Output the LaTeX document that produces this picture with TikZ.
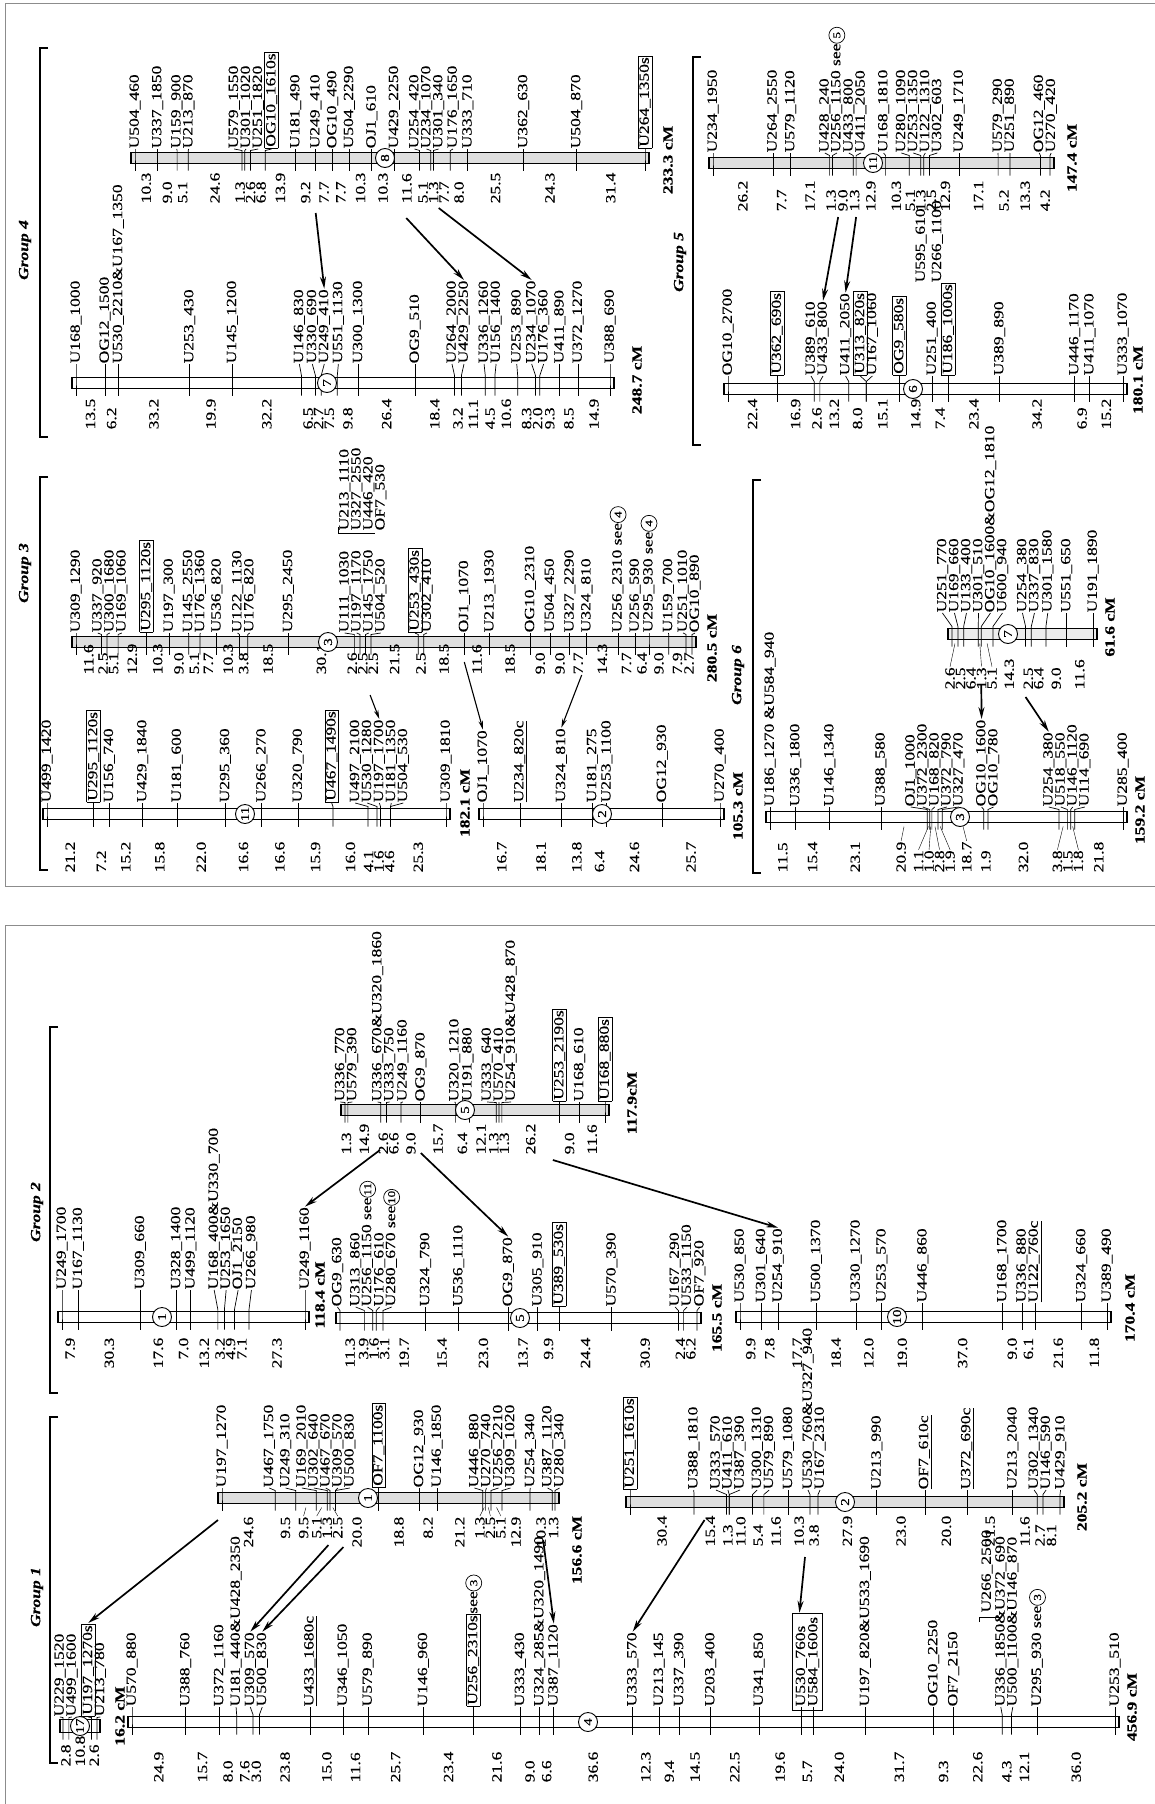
\documentclass[tikz,border=0pt]{standalone}
\usepackage{fontspec}
\setmainfont{Liberation Serif}[FakeStretch=1.25,FakeBold=0.4]
\usetikzlibrary{arrows.meta,fit,calc}
\setlength\fboxsep{1pt}
\setlength\fboxrule{0.6pt}
\tikzset{
  lab/.style={rotate=90,anchor=west,inner sep=0.5pt,font=\fontsize{14}{15}\selectfont},
  dst/.style={rotate=90,inner sep=0.5pt,font=\fontsize{14}{15}\selectfont},
  totlab/.style={rotate=90,inner sep=0.5pt,font=\fontsize{14}{15}\selectfont\bfseries},
  grplab/.style={rotate=90,inner sep=0.5pt,font=\fontsize{14}{15}\selectfont\bfseries\itshape},
  tickln/.style={line width=0.7pt},
  dleadln/.style={line width=0.4pt},
  barln/.style={line width=1.4pt},
  cnode/.style={circle,draw,line width=0.9pt,fill=white,inner sep=0pt,minimum size=19pt,rotate=90,font=\fontsize{12}{12}\selectfont},
  arr/.style={line width=1.7pt,-{Stealth[length=12pt,width=6pt]}},
  thinarr/.style={line width=1.1pt,-{Stealth[length=9pt,width=4.5pt]}},
  brk/.style={line width=2.4pt},
  frm/.style={line width=0.8pt,black!45},
}
\newcommand\encirc[1]{\tikz[baseline=(e.base)]\node[draw,circle,inner sep=0pt,minimum size=16pt,line width=0.7pt,anchor=center,font=\fontsize{10.5}{10.5}\selectfont](e){#1};}

\pgfkeys{/chr/.is family,/chr/.cd,
  name/.initial=c,x0/.initial=0,x1/.initial=100,y/.initial=0,h/.initial=11,
  ylab/.initial=0,ydist/.initial=0,dan/.initial=west,bfill/.initial=white,
  cx/.initial=0,num/.initial=1,tot/.initial={},tx/.initial=0,ty/.initial=0,
  sep/.initial=12,dsep/.initial=10.5,ext/.initial=4,dlead/.initial=0}

\newcount\nmk
\newcommand\getv[2]{\expandafter\let\expandafter#1\csname #2\endcsname}
\newcommand\chrom[2]{%
 \begingroup
 \pgfkeys{/chr/.cd,#1}%
 \edef\cnm{\pgfkeysvalueof{/chr/name}}%
 \edef\Bf{\pgfkeysvalueof{/chr/bfill}}%
 \edef\Dan{\pgfkeysvalueof{/chr/dan}}%
 \edef\Dl{\pgfkeysvalueof{/chr/dlead}}%
 \pgfmathsetmacro\Xa{\pgfkeysvalueof{/chr/x0}}%
 \pgfmathsetmacro\Xb{\pgfkeysvalueof{/chr/x1}}%
 \pgfmathsetmacro\Yb{\pgfkeysvalueof{/chr/y}}%
 \pgfmathsetmacro\Hb{\pgfkeysvalueof{/chr/h}}%
 \pgfmathsetmacro\Yl{\pgfkeysvalueof{/chr/ylab}}%
 \pgfmathsetmacro\Yd{\pgfkeysvalueof{/chr/ydist}}%
 \pgfmathsetmacro\Sl{\pgfkeysvalueof{/chr/sep}}%
 \pgfmathsetmacro\Sd{\pgfkeysvalueof{/chr/dsep}}%
 \pgfmathsetmacro\Ex{\pgfkeysvalueof{/chr/ext}}%
 \pgfmathsetmacro\Yt{\Yb-\Hb/2}%
 \pgfmathsetmacro\Yu{\Yb+\Hb/2}%
 \global\nmk=0 \gdef\cum{0}%
 \foreach \dd/\ll in {#2}{%
   \global\advance\nmk by 1
   \pgfmathsetmacro\tmp{\cum+\dd}\xdef\cum{\tmp}%
   \expandafter\xdef\csname mc\the\nmk\endcsname{\tmp}%
   \expandafter\xdef\csname md\the\nmk\endcsname{\dd}%
   \expandafter\global\expandafter\let\csname ml\the\nmk\endcsname\ll
 }%
 \edef\nn{\the\nmk}%
 \pgfmathsetmacro\scl{(\Xb-\Xa)/\cum}%
 \foreach \i in {1,...,\nn}{%
   \getv\tc{mc\i}%
   \pgfmathsetmacro\tmp{\Xa+\tc*\scl}%
   \expandafter\xdef\csname mp\i\endcsname{\tmp}}%
 \gdef\prv{-10000}%
 \foreach \i in {1,...,\nn}{%
   \getv\tp{mp\i}%
   \pgfmathsetmacro\tmp{max(\tp,\prv+\Sl)}%
   \xdef\prv{\tmp}%
   \expandafter\xdef\csname mf\i\endcsname{\tmp}}%
 \gdef\prv{10000}%
 \foreach \i in {\nn,...,1}{%
   \getv\tp{mp\i}%
   \pgfmathsetmacro\tmp{min(\tp,\prv-\Sl)}%
   \xdef\prv{\tmp}%
   \expandafter\xdef\csname mb\i\endcsname{\tmp}}%
 \draw[barln,fill=\Bf] (\Xa-\Ex,\Yt) rectangle (\Xb+\Ex,\Yu);
 \foreach \i in {1,...,\nn}{%
   \getv\tp{mp\i}\getv\tf{mf\i}\getv\tb{mb\i}%
   \pgfmathsetmacro\tl{(\tf+\tb)/2}%
   \draw[tickln] (\tl,\Yl) -- (\tp,\Yt-2) -- (\tp,\Yu+7);
   \coordinate (\cnm-m\i) at (\tp,\Yb);
   \node[lab] (\cnm-l\i) at (\tl,\Yl) {\csname ml\i\endcsname};
 }%
 \gdef\prv{-10000}%
 \foreach \i in {2,...,\nn}{%
   \getv\tdd{md\i}%
   \ifdim\tdd pt=0pt\relax\else
     \pgfmathtruncatemacro\j{\i-1}%
     \getv\pa{mp\j}\getv\pb{mp\i}%
     \pgfmathsetmacro\tmp{max((\pa+\pb)/2,\prv+\Sd)}%
     \xdef\prv{\tmp}%
     \expandafter\xdef\csname qf\i\endcsname{\tmp}%
   \fi}%
 \gdef\prv{10000}%
 \foreach \i in {\nn,...,2}{%
   \getv\tdd{md\i}%
   \ifdim\tdd pt=0pt\relax\else
     \pgfmathtruncatemacro\j{\i-1}%
     \getv\pa{mp\j}\getv\pb{mp\i}%
     \pgfmathsetmacro\tmp{min((\pa+\pb)/2,\prv-\Sd)}%
     \xdef\prv{\tmp}%
     \expandafter\xdef\csname qb\i\endcsname{\tmp}%
   \fi}%
 \foreach \i in {2,...,\nn}{%
   \getv\tdd{md\i}%
   \ifdim\tdd pt=0pt\relax\else
     \getv\qa{qf\i}\getv\qb{qb\i}%
     \pgfmathsetmacro\tq{(\qa+\qb)/2}%
     \node[dst,anchor=\Dan] (\cnm-d\i) at (\tq,\Yd) {\tdd};
     \ifnum\Dl=1
       \pgfmathtruncatemacro\j{\i-1}%
       \getv\pa{mp\j}\getv\pb{mp\i}%
       \pgfmathsetmacro\tmid{(\pa+\pb)/2}%
       \pgfmathtruncatemacro\dev{100*abs(\tq-\tmid)}%
       \ifnum\dev>150
         \draw[dleadln] (\cnm-d\i.east) -- (\tmid,\Yu+4);
       \fi
     \fi
   \fi}%
 \node[cnode] (\cnm-c) at (\pgfkeysvalueof{/chr/cx},\Yb) {\pgfkeysvalueof{/chr/num}};
 \node[totlab] (\cnm-t) at (\pgfkeysvalueof{/chr/tx},\pgfkeysvalueof{/chr/ty}) {\pgfkeysvalueof{/chr/tot}};
 \endgroup}

\begin{document}
\catcode`\_=12
\begin{tikzpicture}[x=1pt,y=-1pt]
\useasboundingbox (0,0) rectangle (1155,1804);
\fill[white] (0,0) rectangle (1155,1804);

% frames
\draw[frm] (5,886) -- (5,3) -- (1155,3);
\draw[frm] (5,886) -- (1155,886);
\draw[frm] (5,1804) -- (5,925) -- (1155,925);

% ---------- Group 4 ----------
\chrom{name=g4c8,x0=135,x1=645,y=158,ylab=149,ydist=204,bfill=gray!25,cx=385,num=8,tot=233.3 cM,tx=668,ty=160}{%
0/U504_460, 10.3/U337_1850, 9.0/U159_900, 5.1/U213_870, 24.6/U579_1550, 1.3/U301_1020, 2.6/U251_1820, 6.8/\fbox{OG10_1610s}, 13.9/U181_490, 9.2/U249_410, 7.7/OG10_490, 7.7/U504_2290, 10.3/OJ1_610, 10.3/U429_2250, 11.6/U254_420, 5.1/U234_1070, 1.3/U301_340, 7.7/U176_1650, 8.0/U333_710, 25.5/U362_630, 24.3/U504_870, 31.4/\fbox{U264_1350s}}

\chrom{name=g4c7,x0=76,x1=610,y=383,ylab=364,ydist=430,cx=327,num=7,tot=248.7 cM,tx=637,ty=380}{%
0/U168_1000, 13.5/OG12_1500, 6.2/U530_2210\&U167_1350, 33.2/U253_430, 19.9/U145_1200, 32.2/U146_830, 6.5/U330_690, 2.7/U249_410, 7.5/U551_1130, 9.8/U300_1300, 26.4/OG9_510, 18.4/U264_2000, 3.2/U429_2250, 11.1/U336_1260, 4.5/U156_1400, 10.6/U253_890, 8.3/U234_1070, 2.0/U176_360, 9.3/U411_890, 8.5/U372_1270, 14.9/U388_690}

% ---------- Group 5 ----------
\chrom{name=g5c11,x0=713,x1=1050,y=163,ylab=153,ydist=212,bfill=gray!25,cx=873,num=11,tot=147.4 cM,tx=1072,ty=158}{%
0/U234_1950, 26.2/U264_2550, 7.7/U579_1120, 17.1/U428_240, 1.3/U256_1150 see\encirc{5}, 9.0/U433_800, 1.3/U411_2050, 12.9/U168_1810, 10.3/U280_1090, 5.1/U253_1350, 1.3/U122_1310, 2.5/U302_603, 12.9/U249_1710, 17.1/U579_290, 5.2/U251_890, 13.3/OG12_460, 4.2/U270_420}

\chrom{name=g5c6,x0=728,x1=1123,y=389,ylab=376,ydist=430,cx=913,num=6,tot=180.1 cM,tx=1138,ty=380}{%
0/OG10_2700, 22.4/\fbox{U362_690s}, 16.9/U389_610, 2.6/U433_800, 13.2/U411_2050, 8.0/\fbox{U313_820s}, 0/U167_1060, 15.1/\fbox{OG9_580s}, 14.9/U251_400, 7.4/\fbox{U186_1000s}, 23.4/U389_890, 34.2/U446_1170, 6.9/U411_1070, 15.2/U333_1070}

% ---------- Group 3 ----------
\chrom{name=g3c3,x0=76,x1=692,y=642,ylab=633,ydist=675,bfill=gray!25,cx=328,num=3,tot=280.5 cM,tx=712,ty=648}{%
0/U309_1290, 11.6/U337_920, 2.5/U300_1680, 5.1/U169_1060, 12.9/\fbox{U295_1120s}, 10.3/U197_300, 9.0/U145_2550, 5.1/U176_1360, 7.7/U536_820, 10.3/U122_1130, 3.8/U176_820, 18.5/U295_2450, 30.1/U111_1030, 2.6/U197_1170, 2.5/U145_1750, 2.5/U504_520, 21.5/\fbox{U253_430s}, 2.5/U302_410, 18.5/OJ1_1070, 11.6/U213_1930, 18.5/OG10_2310, 9.0/U504_450, 9.0/U327_2290, 7.7/U324_810, 14.3/U256_2310 see\encirc{4}, 7.7/U256_590, 6.4/U295_930 see\encirc{4}, 9.0/U159_700, 7.9/U251_1010, 2.7/OG10_890}

\chrom{name=g3c11,x0=47,x1=446,y=814,ylab=803,ydist=873,cx=245,num=11,tot=182.1 cM,tx=465,ty=803}{%
0/U499_1420, 21.2/\fbox{U295_1120s}, 7.2/U156_740, 15.2/U429_1840, 15.8/U181_600, 22.0/U295_360, 16.6/U266_270, 16.6/U320_790, 15.9/\fbox{U467_1490s}, 16.0/U497_2100, 4.1/U530_1280, 1.6/U197_1700, 4.6/U181_1350, 0/U504_530, 25.3/U309_1810}

\chrom{name=g3c2,x0=483,x1=720,y=814,ylab=803,ydist=873,cx=602,num=2,tot=105.3 cM,tx=738,ty=806}{%
0/OJ1_1070, 16.7/\underline{U234_820c}, 18.1/U324_810, 13.8/U181_275, 6.4/U253_1100, 24.6/OG12_930, 25.7/U270_400}

% ---------- Group 6 ----------
\chrom{name=g6c3,x0=770,x1=1123,y=817,ylab=807,ydist=873,cx=960,num=3,tot=159.2 cM,tx=1140,ty=810,dlead=1}{%
0/U186_1270 \&U584_940, 11.5/U336_1800, 15.4/U146_1340, 23.1/U388_580, 20.9/OJ1_1000, 1.1/U372_2300, 1.0/U168_820, 2.8/U372_790, 1.9/U327_470, 18.7/OG10_1600, 1.9/OG10_780, 32.0/U254_380, 3.8/U518_550, 1.5/U146_1120, 1.8/U114_690, 21.8/U285_400}

\chrom{name=g6c7,x0=952,x1=1093,y=634,ylab=613,ydist=690,bfill=gray!15,cx=1008,num=7,tot=61.6 cM,tx=1110,ty=627,dlead=1}{%
0/U251_770, 2.6/U169_660, 2.5/U133_400, 6.4/U301_510, 1.3/OG10_1600\&OG12_1810, 5.1/U600_940, 14.3/U254_380, 2.5/U337_830, 6.4/U301_1580, 9.0/U551_650, 11.6/U191_1890}

% ---------- Group 2 ----------
\chrom{name=g2c1,x0=62,x1=305,y=1317,ylab=1290,ydist=1337,dan=east,cx=162,num=1,tot=118.4 cM,tx=320,ty=1295}{%
0/U249_1700, 7.9/U167_1130, 30.3/U309_660, 17.6/U328_1400, 7.0/U499_1120, 13.2/U168_400\&U330_700, 3.2/U253_1650, 4.9/OJ1_2150, 7.1/U266_980, 27.3/U249_1160}

\chrom{name=g2c5a,x0=345,x1=605,y=1110,ylab=1102,ydist=1155,bfill=gray!25,cx=465,num=5,tot=117.9cM,tx=632,ty=1103}{%
0/U336_770, 1.3/U579_390, 14.9/U336_670\&U320_1860, 2.6/U333_750, 6.6/U249_1160, 9.0/OG9_870, 15.7/U320_1210, 6.4/U191_880, 12.1/U333_640, 1.3/U570_410, 1.3/U254_910\&U428_870, 26.2/\fbox{U253_2190s}, 9.0/U168_610, 11.6/\fbox{U168_880s}}

\chrom{name=g2c5b,x0=340,x1=697,y=1318,ylab=1307,ydist=1337,dan=east,cx=520,num=5,tot=165.5 cM,tx=717,ty=1318}{%
0/OG9_630, 11.3/U313_860, 3.9/U256_1150 see\encirc{11}, 1.6/U176_610, 3.1/U280_670 see\encirc{10}, 19.7/U324_790, 15.4/U536_1110, 23.0/OG9_870, 13.7/U305_910, 9.9/\fbox{U389_530s}, 24.4/U570_390, 30.9/U167_290, 2.4/U533_1150, 6.2/OF7_920}

\chrom{name=g2c10,x0=740,x1=1107,y=1317,ylab=1303,ydist=1337,dan=east,cx=897,num=10,tot=170.4 cM,tx=1130,ty=1308}{%
0/U530_850, 9.9/U301_640, 7.8/U254_910, 17.7/U500_1370, 18.4/U330_1270, 12.0/U253_570, 19.0/U446_860, 37.0/U168_1700, 9.0/U336_880, 6.1/\underline{U122_760c}, 21.6/U324_660, 11.8/U389_490}

% ---------- Group 1 ----------
\chrom{name=g1c1,x0=222,x1=555,y=1498,ylab=1488,ydist=1516,dan=east,bfill=gray!25,cx=368,num=1,tot=156.6 cM,tx=577,ty=1550,dlead=1}{%
0/U197_1270, 24.6/U467_1750, 9.5/U249_310, 9.5/U169_2010, 5.1/U302_640, 1.3/U467_670, 2.5/U309_570, 0/U500_830, 20.0/\fbox{OF7_1100s}, 18.8/OG12_930, 8.2/U146_1850, 21.2/U446_880, 1.3/U270_740, 2.5/U256_2210, 5.1/U309_1020, 12.9/U254_340, 10.3/U387_1120, 1.3/U280_340}

\chrom{name=g1c2,x0=630,x1=1060,y=1502,ylab=1490,ydist=1547,bfill=gray!25,cx=845,num=2,tot=205.2 cM,tx=1082,ty=1497}{%
0/\fbox{U251_1610s}, 30.4/U388_1810, 15.4/U333_570, 1.3/U411_610, 0/U387_390, 11.0/U300_1310, 5.4/U579_890, 11.6/U579_1080, 10.3/U530_760\&U327_940, 3.8/U167_2310, 27.9/U213_990, 23.0/\underline{OF7_610c}, 20.0/\underline{U372_690c}, 21.5/U213_2040, 11.6/U302_1340, 2.7/U146_590, 8.1/U429_910}

\chrom{name=g1c4,x0=132,x1=1115,y=1722,ylab=1707,ydist=1783,cx=588,num=4,tot=456.9 cM,tx=1132,ty=1707}{%
0/U570_880, 24.9/U388_760, 15.7/U372_1160, 8.0/U181_440\&U428_2350, 7.6/U309_570, 3.0/U500_830, 23.8/\underline{U433_1680c}, 15.0/U346_1050, 11.6/U579_890, 25.7/U146_960, 23.4/\fbox{U256_2310s}see\encirc{3}, 21.6/U333_430, 9.0/U324_285\&U320_1490, 6.6/U387_1120, 36.6/U333_570, 12.3/U213_145, 9.4/U337_390, 14.5/U203_400, 22.5/U341_850, 19.6/U530_760s, 5.7/U584_1600s, 24.0/U197_820\&U533_1690, 31.7/OG10_2250, 9.3/OF7_2150, 22.6/U336_1850\&U372_690, 4.3/U500_1100\&U146_870, 12.1/U295_930 see\encirc{3}, 36.0/U253_510}

\chrom{name=g1c17,x0=63,x1=97,y=1726,h=13,ylab=1717,ydist=1767,cx=80,num=17,tot=16.2 cM,tx=120,ty=1716,ext=3}{%
0/U229_1520, 2.8/U499_1600, 10.8/\fbox{U197_1270s}, 2.6/U213_780}

% boxes and extra texts
\node[draw,line width=0.8pt,inner sep=3pt,fit=(g1c4-l20)(g1c4-l21)] (box530) {};
\node[lab] (s1) at ($(g3c3-l13.west)+(0,-102)$) {U213_1110};
\node[lab] (s2) at ($(g3c3-l14.west)+(0,-102)$) {U327_2550};
\node[lab] (s3) at ($(g3c3-l15.west)+(0,-102)$) {U446_420};
\node[lab] (s4) at ($(g3c3-l16.west)+(0,-102)$) {OF7_530};
\draw[tickln] ($(s1.west)+(-6,-4)$) -- ($(s1.west)+(-6,2)$) -- ($(s3.west)+(6,2)$);
\node[lab] (s5) at ($(g5c6-l9.west)+(-11,-93)$) {U595_610};
\node[lab] (s6) at ($(g5c6-l10.west)+(-11,-93)$) {U266_1100};
\node[lab] (s7) at (987,1613) {U266_2500};
\draw[tickln] (979,1622) -- (979,1617) -- (1000,1617);

% arrows
\draw[arr] ($(g4c8-m10)+(0,55)$) -- (g4c7-l8.east);
\draw[arr] ($(g4c8-m14)+(12,60)$) -- (g4c7-l13.east);
\draw[arr] ($(g4c8-m16)+(8,50)$) -- (g4c7-l17.east);
\draw[arr] ($(g5c11-m6)+(-15,54)$) -- (g5c6-l4.east);
\draw[arr] ($(g5c11-m7)+(0,54)$) -- (g5c6-l5.east);
\draw[thinarr] ($(g3c3-m19)+(0,20)$) -- (g3c2-l1.east);
\draw[thinarr] ($(g3c3-m24)+(-5,33)$) -- (g3c2-l3.east);
\draw[thinarr] ($(g3c3-m14)+(10,53)$) -- (g3c11-l12.east);
\draw[arr] ($(g6c7-m5)+(0,51)$) -- (g6c3-l10.east);
\draw[arr] ($(g6c7-m7)+(0,63)$) -- (g6c3-l12.east);
\draw[arr] ($(g2c5a-m5)+(-21,40)$) -- (g2c1-l10.east);
\draw[arr] ($(g2c5a-m6)+(0,43)$) -- (g2c5b-l8.east);
\draw[arr] ($(g2c5a-m11)+(51,50)$) -- (g2c10-l3.east);
\draw[arr] ($(g1c1-m1)+(-4,22)$) -- (g1c17-l3.east);
\draw[arr] ($(g1c1-m7)+(-7,47)$) -- (g1c4-l5.east);
\draw[arr] ($(g1c1-m8)+(8,49)$) -- (g1c4-l6.east);
\draw[arr] ($(g1c1-m17)+(-9,42)$) -- (g1c4-l14.east);
\draw[arr] ($(g1c2-m3)+(-22,18)$) -- (g1c4-l15.east);
\draw[arr] ($(g1c2-m9)+(-5,55)$) -- ($(box530.north)+(-8,0)$);

% group labels and brackets
\node[grplab] (G4) at (25,250) {Group 4};
\node[grplab] (G3) at (25,573) {Group 3};
\node[grplab] (G5) at (680,262) {Group 5};
\node[grplab] (G6) at (738,675) {Group 6};
\node[grplab] (G2) at (37,1212) {Group 2};
\node[grplab] (G1) at (37,1597) {Group 1};
\draw[brk] (48,48) -- (40,48) -- (40,437) -- (48,437);
\draw[brk] (48,477) -- (40,477) -- (40,870) -- (48,870);
\draw[brk] (701,57) -- (693,57) -- (693,445) -- (701,445);
\draw[brk] (761,480) -- (753,480) -- (753,873) -- (761,873);
\draw[brk] (58,1027) -- (50,1027) -- (50,1393) -- (58,1393);
\draw[brk] (58,1417) -- (50,1417) -- (50,1763) -- (58,1763);
\end{tikzpicture}
\end{document}
